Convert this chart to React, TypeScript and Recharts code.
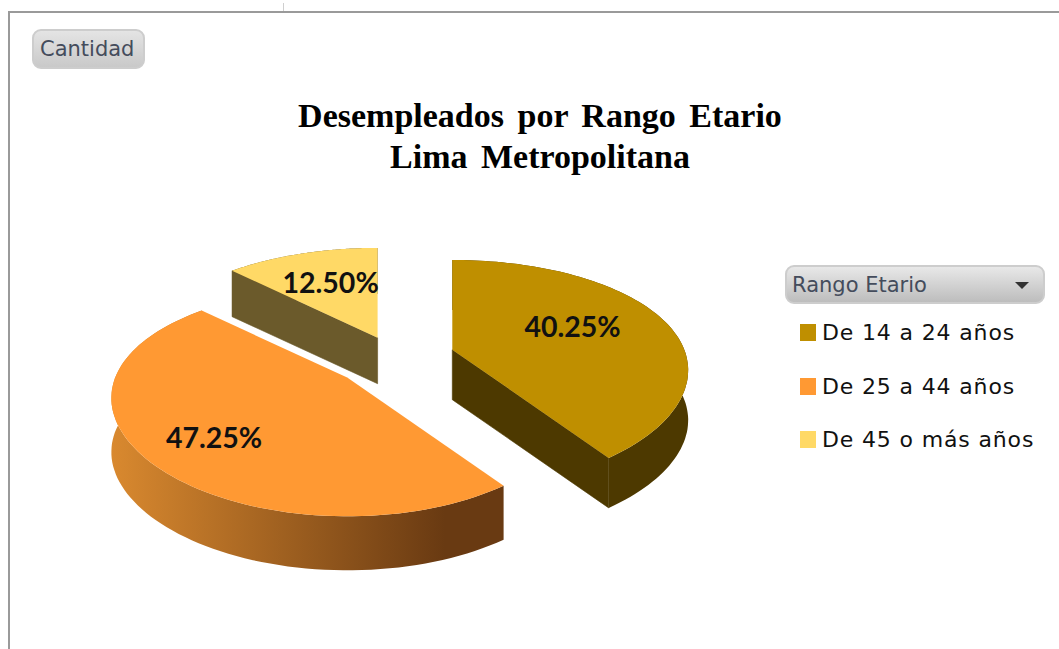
import { PieChart, Pie, Legend } from 'recharts';

const CATEGORIES = ['De 14 a 24 años', 'De 25 a 44 años', 'De 45 o más años'];
const SHARES = [40.25, 47.25, 12.5];
const TOP_COLORS = ['#bf8f00', '#ff9933', '#ffd966'];
const WALL_LEFT = ['#4d3900', '#d9892f', '#6b5a2b'];
const WALL_RIGHT = ['#4d3900', '#693a12', '#6b5a2b'];
const TITLE_LINES = ['Desempleados por Rango Etario', 'Lima Metropolitana'];

const chartData = CATEGORIES.map((name, i) => ({ name, value: SHARES[i], fill: TOP_COLORS[i] }));

// fake 3D: the disc is tipped back and seen with some perspective
const RY_RATIO = 0.47;
const PERSPECTIVE_X = 0.18;
const PERSPECTIVE_Y = 0.214;
const DEPTHS = [50, 54, 46];
const EXPLODE_X = 0.241;
const EXPLODE_Y = 0.251;
// small per-slice corrections, the original 3D engine is not a clean projection
const APEX_NUDGE_X = [0, -9, 0];
const APEX_NUDGE_Y = [-2, 0, 3];
const LABEL_REACH = [0.56, 0.69, 0.58];
const LABEL_NUDGE_Y = [-6, 6, -3];

function project(angle: number, reach: number, rx: number) {
  const t = ((90 - angle) * Math.PI) / 180;
  const u = Math.sin(t) * reach;
  const v = Math.cos(t) * reach;
  return {
    x: (rx * u) / (1 + PERSPECTIVE_X * v),
    y: (-rx * RY_RATIO * v) / (1 + PERSPECTIVE_Y * v),
  };
}

function apex(cx: number, cy: number, mid: number, rx: number, index: number) {
  const t = ((90 - mid) * Math.PI) / 180;
  return {
    x: cx + EXPLODE_X * rx * Math.sin(t) + APEX_NUDGE_X[index],
    y: cy - EXPLODE_Y * rx * RY_RATIO * Math.cos(t) + APEX_NUDGE_Y[index],
  };
}

function toPath(points: { x: number; y: number }[]) {
  return points.map((p, i) => `${i ? 'L' : 'M'}${p.x.toFixed(1)},${p.y.toFixed(1)}`).join(' ') + ' Z';
}

function Wedge3D(props: any) {
  const { cx, cy, outerRadius, startAngle, endAngle, midAngle, fill, index } = props;
  const a = apex(cx, cy, midAngle, outerRadius, index);
  const arc: { x: number; y: number }[] = [];
  const steps = 90;
  for (let i = 0; i <= steps; i++) {
    const p = project(startAngle + ((endAngle - startAngle) * i) / steps, 1, outerRadius);
    arc.push({ x: a.x + p.x, y: a.y + p.y });
  }
  const down = (p: { x: number; y: number }) => ({ x: p.x, y: p.y + DEPTHS[index] });
  const first = arc[0];
  const last = arc[arc.length - 1];
  const wallId = `wall-${index}`;
  const face = WALL_RIGHT[index];
  // a cut face only shows when it turns towards the viewer
  const startShows = Math.sin(((90 - startAngle) * Math.PI) / 180) < -0.01;
  const endShows = Math.sin(((90 - endAngle) * Math.PI) / 180) > 0.01;
  return (
    <g>
      <defs>
        <linearGradient id={wallId} x1="0" y1="0" x2="1" y2="0">
          <stop offset="0" stopColor={WALL_LEFT[index]} />
          <stop offset="0.85" stopColor={WALL_RIGHT[index]} />
          <stop offset="1" stopColor={WALL_RIGHT[index]} />
        </linearGradient>
      </defs>
      {startShows && <path d={toPath([a, first, down(first), down(a)])} fill={face} stroke={face} strokeWidth={0.6} />}
      {endShows && <path d={toPath([a, last, down(last), down(a)])} fill={face} stroke={face} strokeWidth={0.6} />}
      <path d={toPath([...arc, ...arc.map(down).reverse()])} fill={`url(#${wallId})`} />
      <path d={toPath([a, ...arc])} fill={fill} />
    </g>
  );
}

function renderLabel(props: any) {
  const { cx, cy, outerRadius, midAngle, value, index } = props;
  const a = apex(cx, cy, midAngle, outerRadius, index);
  const p = project(midAngle, LABEL_REACH[index], outerRadius);
  return (
    <text
      x={a.x + p.x}
      y={a.y + p.y + LABEL_NUDGE_Y[index]}
      textAnchor="middle"
      dominantBaseline="central"
      fontFamily="Lato, sans-serif"
      fontWeight={700}
      fontSize={28.5}
      fill="#111"
    >
      {value.toFixed(2)}%
    </text>
  );
}

const buttonStyle: React.CSSProperties = {
  position: 'absolute',
  boxSizing: 'border-box',
  borderRadius: 9,
  border: '2px solid #cdcdcd',
  background: 'linear-gradient(#e4e4e4, #c9c9c9)',
  color: '#444c5c',
  fontFamily: '"DejaVu Sans", sans-serif',
  fontSize: 21,
  display: 'flex',
  alignItems: 'center',
};

function LegendBox({ payload }: any) {
  return (
    <div style={{ position: 'relative', width: 260, height: 200 }}>
      <div style={{ ...buttonStyle, left: 0, top: 0, width: 260, height: 39, paddingLeft: 5, background: 'linear-gradient(#e8e8e8, #bdbdbd)' }}>
        Rango Etario
        <span
          style={{
            position: 'absolute',
            right: 14,
            top: 15,
            width: 0,
            height: 0,
            borderLeft: '7px solid transparent',
            borderRight: '7px solid transparent',
            borderTop: '7px solid #333',
          }}
        />
      </div>
      {(payload || []).map((entry: any, i: number) => (
        <div
          key={entry.value}
          style={{
            position: 'absolute',
            left: 15,
            top: 55 + i * 53.5,
            display: 'flex',
            alignItems: 'center',
            fontFamily: '"DejaVu Sans", sans-serif',
            fontSize: 22,
            letterSpacing: 0.85,
            color: '#111',
            whiteSpace: 'nowrap',
          }}
        >
          <span style={{ width: 16, height: 17, background: entry.color, marginRight: 6 }} />
          {entry.value}
        </div>
      ))}
    </div>
  );
}

export default function App() {
  return (
    <div style={{ position: 'absolute', left: 0, top: 0, width: 1059, height: 649, overflow: 'hidden', background: '#fff' }}>
      <div style={{ position: 'absolute', left: 8, top: 11, right: 0, height: 2, background: '#9a9a9a' }} />
      <div style={{ position: 'absolute', left: 8, top: 11, bottom: 0, width: 2, background: '#9a9a9a' }} />
      <div style={{ position: 'absolute', left: 283, top: 3, height: 8, width: 1, background: '#cfcfcf' }} />
      <PieChart width={1059} height={649} margin={{ top: 0, right: 0, bottom: 0, left: 0 }} style={{ position: 'absolute', left: 0, top: 0 }}>
        <Pie
          data={chartData}
          dataKey="value"
          nameKey="name"
          cx={399}
          cy={360}
          outerRadius={232}
          startAngle={90}
          endAngle={-270}
          stroke="none"
          shape={Wedge3D}
          label={renderLabel}
          labelLine={false}
          isAnimationActive={false}
        />
        <Legend
          content={<LegendBox />}
          wrapperStyle={{ position: 'absolute', left: 785, top: 265, width: 260, height: 200 }}
        />
      </PieChart>
      <div style={{ ...buttonStyle, left: 32, top: 29, width: 113, height: 40, paddingLeft: 6 }}>Cantidad</div>
      <div
        style={{
          position: 'absolute',
          left: 0,
          top: 95,
          width: 1080,
          textAlign: 'center',
          fontFamily: '"Liberation Serif", serif',
          fontWeight: 700,
          fontSize: 34,
          lineHeight: '41px',
          wordSpacing: 5,
          color: '#000',
        }}
      >
        {TITLE_LINES.map(line => (
          <div key={line}>{line}</div>
        ))}
      </div>
    </div>
  );
}
